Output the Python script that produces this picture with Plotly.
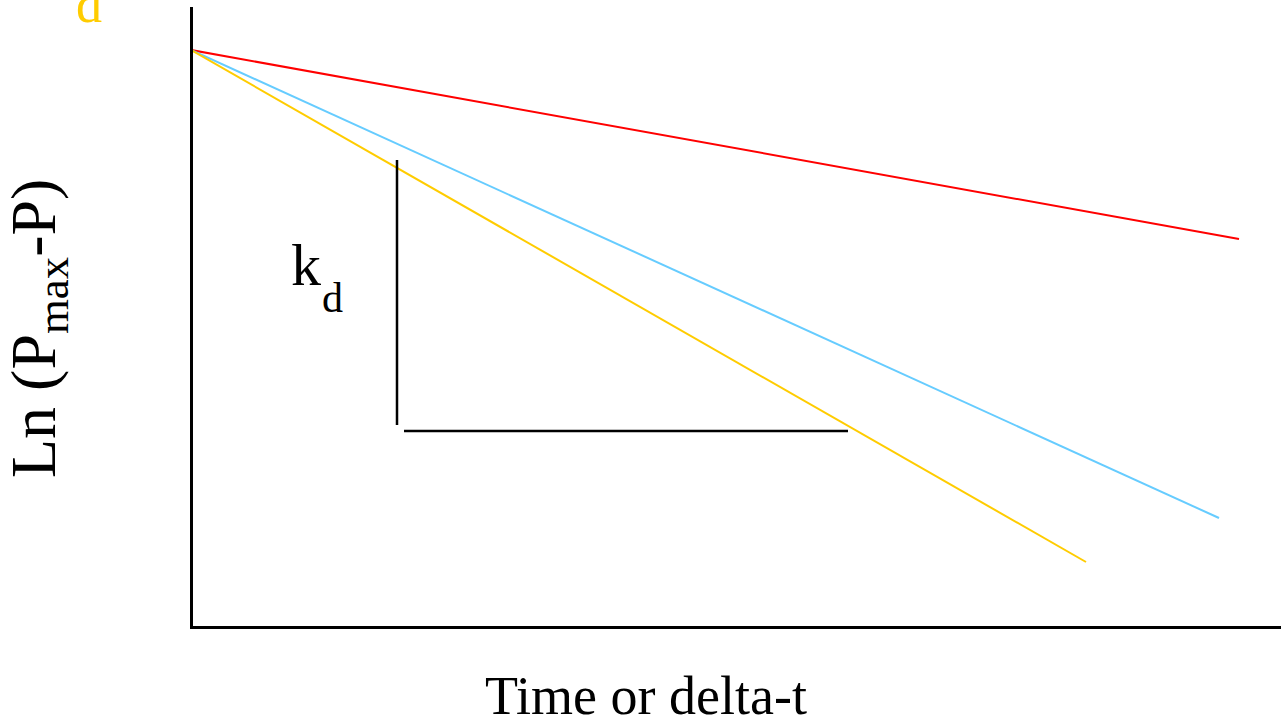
import plotly.graph_objects as go

# Conceptual data (time units, ln units)
t_start = 0.0
ln_start = 5.77
series_names = ["red", "blue", "yellow"]
t_end = [10.48, 10.28, 8.95]
ln_end = [3.88, 1.09, 0.65]
colors = ["#FF0000", "#66CCFF", "#FFCC00"]

# slope triangle
tri_vert_x = [2.06, 2.06]
tri_vert_y = [2.02, 4.67]
tri_hor_x = [2.13, 6.57]
tri_hor_y = [1.96, 1.96]

fig = go.Figure()
for name, te, le, c in zip(series_names, t_end, ln_end, colors):
    fig.add_trace(go.Scatter(x=[t_start, te], y=[ln_start, le], mode="lines",
                             line=dict(color=c, width=2), name=name,
                             hoverinfo="skip", cliponaxis=False))
fig.add_trace(go.Scatter(x=tri_vert_x, y=tri_vert_y, mode="lines",
                         line=dict(color="black", width=2.5), hoverinfo="skip"))
fig.add_trace(go.Scatter(x=tri_hor_x, y=tri_hor_y, mode="lines",
                         line=dict(color="black", width=2.5), hoverinfo="skip"))

serif = "Liberation Serif, Times New Roman, serif"
L, B, T = 193, 94, 7
PW, PH = 1281 - L, 720 - T - B


def px(xp):
    return (xp - L) / PW


def py(yp):
    return (720 - B - yp) / PH


fig.update_layout(
    width=1281, height=720,
    margin=dict(l=L, r=0, t=T, b=B),
    paper_bgcolor="white", plot_bgcolor="white",
    showlegend=False,
    xaxis=dict(range=[0.02, 0.02 + PW / 100], showgrid=False, zeroline=False,
               showticklabels=False, ticks="", showline=True,
               linecolor="black", linewidth=3),
    yaxis=dict(range=[0.01, 0.01 + PH / 100], showgrid=False, zeroline=False,
               showticklabels=False, ticks="", showline=True,
               linecolor="black", linewidth=3),
    annotations=[
        dict(x=px(-4), y=py(329), xref="paper", yref="paper",
             xanchor="left", yanchor="middle",
             text="Ln (P<sub>max</sub>-P)", textangle=-90, showarrow=False,
             font=dict(family=serif, size=64, color="black")),
        dict(x=px(646), y=py(728), xref="paper", yref="paper",
             xanchor="center", yanchor="bottom",
             text="Time or delta-t", showarrow=False,
             font=dict(family=serif, size=54, color="black")),
        dict(x=px(289), y=py(265), xref="paper", yref="paper",
             xanchor="left", yanchor="middle",
             text="k", showarrow=False,
             font=dict(family=serif, size=60, color="black")),
        dict(x=px(320), y=py(298), xref="paper", yref="paper",
             xanchor="left", yanchor="middle",
             text="d", showarrow=False,
             font=dict(family=serif, size=42, color="black")),
        dict(x=px(89), y=py(35), xref="paper", yref="paper", text="d",
             xanchor="center", yanchor="bottom", showarrow=False,
             font=dict(family=serif, size=52, color="#FFCC00")),
    ],
)
fig.write_html("out.html")
